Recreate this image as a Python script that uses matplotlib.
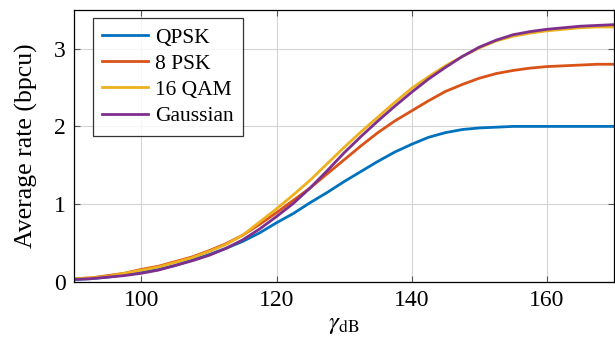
import matplotlib
matplotlib.use("Agg")
import matplotlib.pyplot as plt

# values
gamma_db = [90, 92.5, 95, 97.5, 100, 102.5, 105, 107.5, 110, 112.5, 115, 117.5,
            120, 122.5, 125, 127.5, 130, 132.5, 135, 137.5, 140, 142.5, 145, 147.5,
            150, 152.5, 155, 157.5, 160, 162.5, 165, 167.5, 170]

rate_qpsk = [0.03, 0.04, 0.06, 0.09, 0.12, 0.16, 0.21, 0.28, 0.35, 0.43, 0.52, 0.63,
             0.76, 0.88, 1.02, 1.15, 1.29, 1.42, 1.55, 1.67, 1.77, 1.86, 1.92, 1.96,
             1.98, 1.99, 2.00, 2.00, 2.00, 2.00, 2.00, 2.00, 2.00]

rate_8psk = [0.04, 0.05, 0.08, 0.11, 0.16, 0.20, 0.26, 0.32, 0.40, 0.49, 0.60, 0.74,
             0.89, 1.05, 1.21, 1.39, 1.57, 1.75, 1.92, 2.07, 2.20, 2.33, 2.45, 2.54,
             2.62, 2.68, 2.72, 2.75, 2.77, 2.78, 2.79, 2.80, 2.80]

rate_16qam = [0.04, 0.05, 0.07, 0.11, 0.15, 0.19, 0.25, 0.31, 0.39, 0.48, 0.60, 0.77,
              0.94, 1.12, 1.31, 1.52, 1.73, 1.93, 2.12, 2.31, 2.49, 2.64, 2.78, 2.90,
              3.01, 3.10, 3.16, 3.20, 3.23, 3.25, 3.27, 3.28, 3.28]

rate_gauss = [0.03, 0.04, 0.06, 0.08, 0.11, 0.15, 0.21, 0.27, 0.34, 0.43, 0.54, 0.68,
              0.84, 1.01, 1.21, 1.43, 1.66, 1.87, 2.07, 2.26, 2.44, 2.61, 2.76, 2.90,
              3.02, 3.11, 3.18, 3.22, 3.25, 3.27, 3.29, 3.30, 3.31]

labels = ["QPSK", "8 PSK", "16 QAM", "Gaussian"]
colors = ["#0072BD", "#D95319", "#EDB120", "#7E2F8E"]
x_ticks = [100, 120, 140, 160]
y_ticks = [0, 1, 2, 3]

plt.rcParams["font.family"] = ["Liberation Serif", "DejaVu Serif"]
plt.rcParams["mathtext.fontset"] = "stix"


def main():
    fig = plt.figure(figsize=(6.15, 3.46), dpi=100)
    ax = fig.add_axes([0.120, 0.1855, 0.879, 0.786])

    for series, label, color in zip([rate_qpsk, rate_8psk, rate_16qam, rate_gauss], labels, colors):
        ax.plot(gamma_db, series, color=color, linewidth=2.0, label=label,
                solid_joinstyle="round")

    ax.set_xlim(90, 170)
    ax.set_ylim(0, 3.5)
    ax.set_xticks(x_ticks)
    ax.set_yticks(y_ticks)
    ax.grid(True, color="#d4d4d4", linewidth=0.8)
    ax.set_axisbelow(True)
    ax.tick_params(direction="in", length=4, width=0.8, color="#555555",
                   top=True, right=True, labelsize=17, pad=6)
    for spine in ax.spines.values():
        spine.set_linewidth(0.9)

    ax.set_xlabel(r"$\gamma_{\mathrm{dB}}$", fontsize=18, labelpad=2)
    ax.set_ylabel("Average rate (bpcu)", fontsize=18.5, labelpad=11)

    leg = ax.legend(loc="upper left", bbox_to_anchor=(0.035, 0.97), borderaxespad=0,
                    fontsize=15.5, frameon=True, fancybox=False, edgecolor="black",
                    handlelength=2.1, handletextpad=0.35, labelspacing=0.28,
                    borderpad=0.45)
    leg.get_frame().set_linewidth(0.9)

    fig.savefig("out.png", dpi=100)


if __name__ == "__main__":
    main()
